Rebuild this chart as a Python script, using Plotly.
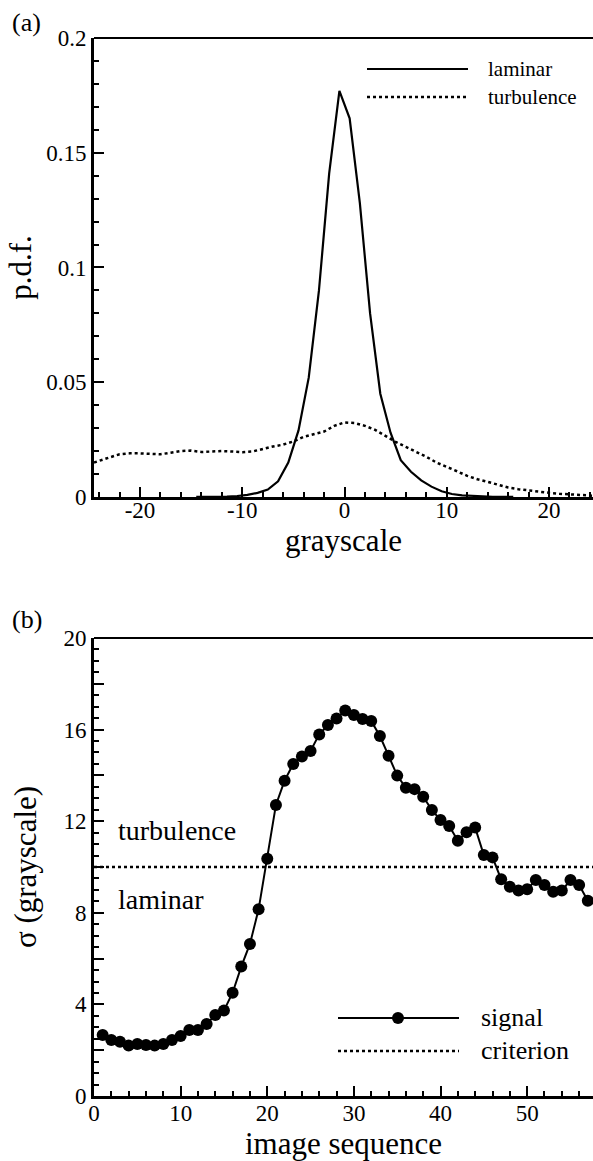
import plotly.graph_objects as go
from plotly.subplots import make_subplots

# ---------------- Panel (a) data ----------------
lam_x = [-14.5, -13.5, -12.5, -11.5, -10.5, -9.5, -8.5, -7.5, -6.5, -5.5, -4.5, -3.5, -2.5, -1.5, -0.5,
         0.5, 1.5, 2.5, 3.5, 4.5, 5.5, 6.5, 7.5, 8.5, 9.5, 10.5, 11.5, 12.5, 13.5, 14.5, 15.5, 16.5]
lam_y = [0.0, 0.0, 0.0001, 0.0002, 0.0004, 0.0009, 0.0018, 0.0032, 0.0068, 0.0150, 0.0290, 0.0520, 0.0900, 0.1410, 0.1770,
         0.1650, 0.1280, 0.0800, 0.0450, 0.0280, 0.0160, 0.0110, 0.0072, 0.0045, 0.0025, 0.0013, 0.0007, 0.0004, 0.0002, 0.0001, 0.0, 0.0]

turb_x = [-24.5, -24, -23, -22, -21, -20, -19, -18, -17, -16, -15, -14, -13, -12, -11, -10, -9, -8, -7, -6,
          -5, -4, -3, -2, -1, 0, 1, 2, 3, 4, 5, 6, 7, 8, 9, 10, 11, 12, 13, 14, 15, 16, 17, 18, 19,
          20, 21, 22, 23, 24, 24.5]
turb_y = [0.0150, 0.0158, 0.0172, 0.0186, 0.0190, 0.0190, 0.0187, 0.0186, 0.0193, 0.0200, 0.0202, 0.0196, 0.0198,
          0.0200, 0.0198, 0.0195, 0.0198, 0.0210, 0.0220, 0.0228, 0.0242, 0.0262, 0.0272, 0.0285, 0.0310, 0.0325,
          0.0322, 0.0310, 0.0292, 0.0265, 0.0240, 0.0218, 0.0198, 0.0175, 0.0150, 0.0132, 0.0112, 0.0092, 0.0077,
          0.0066, 0.0052, 0.0041, 0.0034, 0.0028, 0.0022, 0.0018, 0.0014, 0.0011, 0.0008, 0.0006, 0.0005]

a_xticks = [-20, -10, 0, 10, 20]
a_xticklabels = ["-20", "-10", "0", "10", "20"]
a_yticks = [0, 0.05, 0.1, 0.15, 0.2]
a_yticklabels = ["0", "0.05", "0.1", "0.15", "0.2"]

# ---------------- Panel (b) data ----------------
seq = list(range(1, 58))
sigma = [2.66, 2.45, 2.37, 2.20, 2.27, 2.23, 2.20, 2.27, 2.45, 2.62,
         2.88, 2.88, 3.14, 3.54, 3.73, 4.51, 5.65, 6.64, 8.15, 10.36,
         12.71, 13.77, 14.50, 14.82, 15.07, 15.79, 16.20, 16.48, 16.83, 16.64,
         16.46, 16.38, 15.72, 14.86, 13.99, 13.46, 13.40, 13.07, 12.49, 12.05,
         11.79, 11.15, 11.52, 11.72, 10.52, 10.42, 9.46, 9.14, 8.97, 9.03,
         9.43, 9.21, 8.92, 8.97, 9.43, 9.21, 8.53]
criterion_x = [0, 57.6]
criterion_y = [10, 10]

b_yticks = [0, 2, 4, 6, 8, 10, 12, 14, 16, 18, 20]
b_yticklabels = ["0", "", "4", "", "8", "", "12", "", "16", "", "20"]
b_xticks = [0, 10, 20, 30, 40, 50]
b_xticklabels = ["0", "10", "20", "30", "40", "50"]

FONT = "Times New Roman, Liberation Serif, DejaVu Serif, serif"
TICKFONT = dict(family=FONT, size=23, color="black")
TITLEFONT = dict(family=FONT, size=31, color="black")

fig = make_subplots(rows=2, cols=1)

fig.add_trace(go.Scatter(x=lam_x, y=lam_y, mode="lines", name="laminar",
                         line=dict(color="black", width=2.2), showlegend=False), row=1, col=1)
fig.add_trace(go.Scatter(x=turb_x, y=turb_y, mode="lines", name="turbulence",
                         line=dict(color="black", width=2.5, dash="dot"), showlegend=False), row=1, col=1)

fig.add_trace(go.Scatter(x=criterion_x, y=criterion_y, mode="lines", name="criterion",
                         line=dict(color="black", width=2.5, dash="dot"), showlegend=False), row=2, col=1)
fig.add_trace(go.Scatter(x=seq, y=sigma, mode="lines+markers", name="signal",
                         line=dict(color="black", width=2),
                         marker=dict(color="black", size=12, symbol="circle"),
                         showlegend=False), row=2, col=1)

axis_common = dict(showgrid=False, zeroline=False, showline=True, linecolor="black",
                   linewidth=3, ticks="inside", tickcolor="black", tickwidth=2,
                   ticklen=10, tickfont=TICKFONT, mirror=False, automargin=False)

fig.update_xaxes(**axis_common)
fig.update_yaxes(**axis_common)

fig.update_xaxes(range=[-24.5, 24.3], tickmode="array", tickvals=a_xticks, ticktext=a_xticklabels,
                 ticklabelstandoff=-10,
                 minor=dict(dtick=2, tick0=0, ticklen=5, tickwidth=1.5, ticks="inside", tickcolor="black"),
                 title=dict(text="grayscale", font=TITLEFONT, standoff=2),
                 row=1, col=1)
fig.update_yaxes(range=[0, 0.2], tickmode="array", tickvals=a_yticks, ticktext=a_yticklabels,
                 minor=dict(dtick=0.01, tick0=0, ticklen=5, tickwidth=1.5, ticks="inside", tickcolor="black"),
                 title=dict(text="p.d.f.", font=TITLEFONT, standoff=6),
                 domain=[0.5662, 1.0], row=1, col=1)

fig.update_xaxes(range=[0, 57.6], tickmode="array", tickvals=b_xticks, ticktext=b_xticklabels,
                 ticklabelstandoff=-6,
                 minor=dict(dtick=2, tick0=0, ticklen=5, tickwidth=1.5, ticks="inside", tickcolor="black"),
                 title=dict(text="image sequence", font=TITLEFONT, standoff=4),
                 row=2, col=1)
fig.update_yaxes(range=[0, 20], tickmode="array", tickvals=b_yticks, ticktext=b_yticklabels,
                 minor=dict(dtick=0.5, tick0=0, ticklen=5, tickwidth=1.5, ticks="inside", tickcolor="black"),
                 title=dict(text="σ (grayscale)", font=TITLEFONT, standoff=18),
                 domain=[0.0, 0.4329], row=2, col=1)

shapes = []
# top borders
for xr, yr in (("x domain", "y domain"), ("x2 domain", "y2 domain")):
    shapes.append(dict(type="line", xref=xr, yref=yr, x0=0, x1=1, y0=1, y1=1,
                       line=dict(color="black", width=2)))


def xd(px):
    return (px - 94) / (593 - 94)


def yd_a(py):
    return (497 - py) / (497 - 38)


def yd_b(py):
    return (1096 - py) / (1096 - 638)


# legend samples for panel (a)
shapes.append(dict(type="line", xref="x domain", yref="y domain",
                   x0=xd(367), x1=xd(468), y0=yd_a(69), y1=yd_a(69),
                   line=dict(color="black", width=2.2)))
shapes.append(dict(type="line", xref="x domain", yref="y domain",
                   x0=xd(367), x1=xd(468), y0=yd_a(97), y1=yd_a(97),
                   line=dict(color="black", width=2.5, dash="dot")))
# legend samples for panel (b)
shapes.append(dict(type="line", xref="x2 domain", yref="y2 domain",
                   x0=xd(338), x1=xd(459), y0=yd_b(1018), y1=yd_b(1018),
                   line=dict(color="black", width=2)))
shapes.append(dict(type="line", xref="x2 domain", yref="y2 domain",
                   x0=xd(338), x1=xd(459), y0=yd_b(1051), y1=yd_b(1051),
                   line=dict(color="black", width=2.5, dash="dot")))
shapes.append(dict(type="circle", xref="x2 domain", yref="y2 domain",
                   x0=xd(392), x1=xd(404), y0=yd_b(1024), y1=yd_b(1012),
                   fillcolor="black", line=dict(color="black", width=0)))

annotations = [
    dict(text="laminar", xref="x domain", yref="y domain", x=xd(486), y=yd_a(69),
         xanchor="left", yanchor="middle", showarrow=False, font=dict(family=FONT, size=21, color="black")),
    dict(text="turbulence", xref="x domain", yref="y domain", x=xd(486), y=yd_a(97),
         xanchor="left", yanchor="middle", showarrow=False, font=dict(family=FONT, size=21, color="black")),
    dict(text="signal", xref="x2 domain", yref="y2 domain", x=xd(479), y=yd_b(1018),
         xanchor="left", yanchor="middle", showarrow=False, font=dict(family=FONT, size=26, color="black")),
    dict(text="criterion", xref="x2 domain", yref="y2 domain", x=xd(479), y=yd_b(1051),
         xanchor="left", yanchor="middle", showarrow=False, font=dict(family=FONT, size=26, color="black")),
    dict(text="turbulence", xref="x2 domain", yref="y2 domain", x=xd(116), y=yd_b(831),
         xanchor="left", yanchor="middle", showarrow=False, font=dict(family=FONT, size=28, color="black")),
    dict(text="laminar", xref="x2 domain", yref="y2 domain", x=xd(116), y=yd_b(900),
         xanchor="left", yanchor="middle", showarrow=False, font=dict(family=FONT, size=28, color="black")),
    dict(text="(a)", xref="paper", yref="paper", x=-94 / 499 + 10 / 499, y=(1161 - 65 - 22) / 1058,
         xanchor="left", yanchor="middle", showarrow=False, font=dict(family=FONT, size=26, color="black")),
    dict(text="(b)", xref="paper", yref="paper", x=-94 / 499 + 10 / 499, y=(1161 - 65 - 619) / 1058,
         xanchor="left", yanchor="middle", showarrow=False, font=dict(family=FONT, size=26, color="black")),
]

fig.update_layout(
    width=593, height=1161,
    margin=dict(l=94, r=0, t=38, b=65),
    paper_bgcolor="white", plot_bgcolor="white",
    showlegend=False,
    shapes=shapes,
    annotations=annotations,
    font=dict(family=FONT, color="black"),
)

fig.write_html("out.html")
